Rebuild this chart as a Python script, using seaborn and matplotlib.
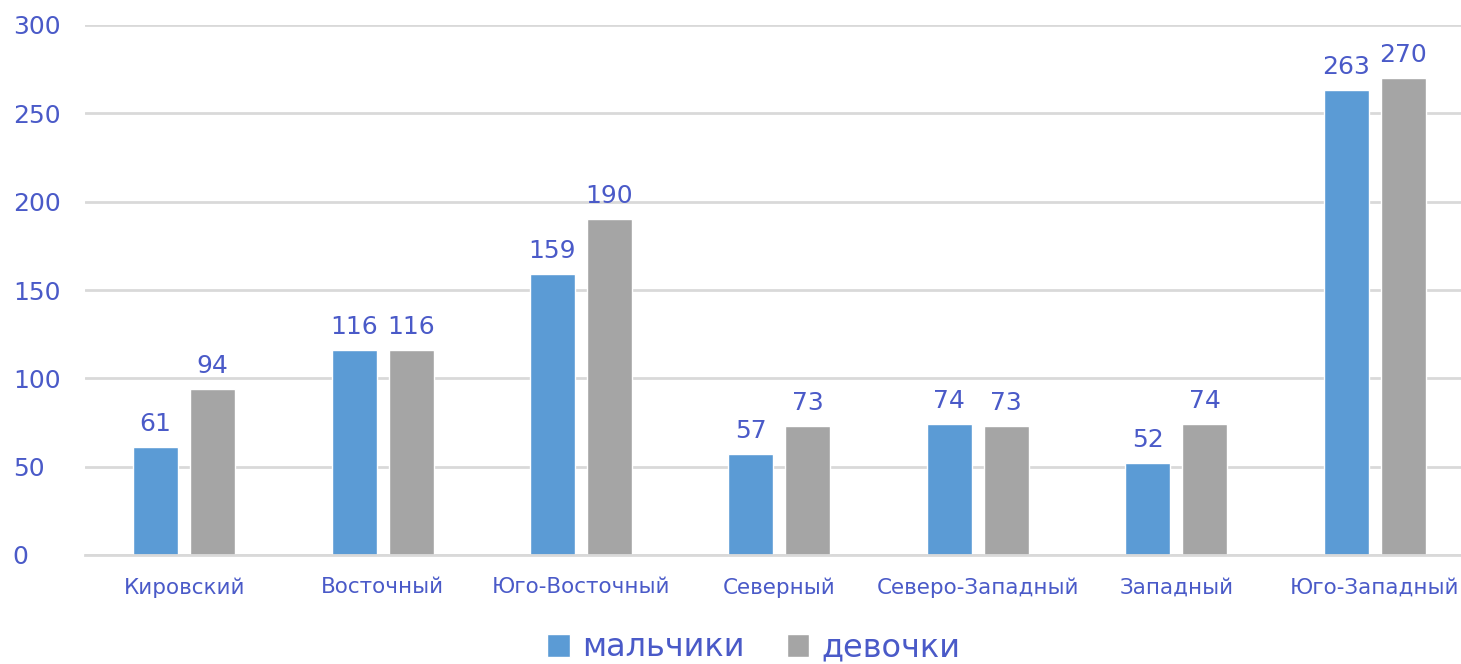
import pandas as pd
import matplotlib
matplotlib.use("Agg")
import matplotlib.pyplot as plt
import seaborn as sns

districts = ["Кировский", "Восточный", "Юго-Восточный", "Северный",
             "Северо-Западный", "Западный", "Юго-Западный"]
boys = [61, 116, 159, 57, 74, 52, 263]
girls = [94, 116, 190, 73, 73, 74, 270]
series = ["мальчики", "девочки"]
yticks = [0, 50, 100, 150, 200, 250, 300]

df = pd.DataFrame({
    "district": districts * 2,
    "value": boys + girls,
    "group": [series[0]] * len(boys) + [series[1]] * len(girls),
})

sns.set_style("white")
plt.rcParams["font.family"] = ["DejaVu Sans"]
txt = "#4A5AC8"

fig = plt.figure(figsize=(14.61, 6.64), dpi=100)
ax = fig.add_axes([85 / 1461, 109 / 664, 1 - 85 / 1461, 530 / 664])

sns.barplot(data=df, x="district", y="value", hue="group", ax=ax,
            palette=["#5B9BD5", "#A5A5A5"], width=0.575, gap=0.21,
            saturation=1, legend=True)

for c in ax.containers:
    ax.bar_label(c, padding=8, fontsize=18, color=txt)

ax.set_ylim(0, 300)
ax.set_xlim(-0.5, -0.5 + (1461 - 85) / 198.4)
ax.set_yticks(yticks)
ax.yaxis.grid(True, color="#D9D9D9", linewidth=2)
ax.set_axisbelow(True)
for s in ["top", "right", "left"]:
    ax.spines[s].set_visible(False)
ax.spines["bottom"].set_color("#D9D9D9")
ax.spines["bottom"].set_linewidth(2)
ax.set_xlabel("")
ax.set_ylabel("")
ax.tick_params(axis="x", length=0, labelsize=15.5, labelcolor=txt, pad=16)
# left-aligned y labels starting ~13px from the figure edge
ax.tick_params(axis="y", length=0, labelsize=18, labelcolor=txt, pad=52)
for lbl in ax.get_yticklabels():
    lbl.set_horizontalalignment("left")

ax.legend(loc="center", bbox_to_anchor=(754 / 1461, 16 / 664),
          bbox_transform=fig.transFigure, ncol=2, frameon=False,
          fontsize=23, labelcolor=txt, handlelength=0.7, handleheight=0.7,
          handletextpad=0.4, columnspacing=1.3)

fig.savefig("out.png", dpi=100)
